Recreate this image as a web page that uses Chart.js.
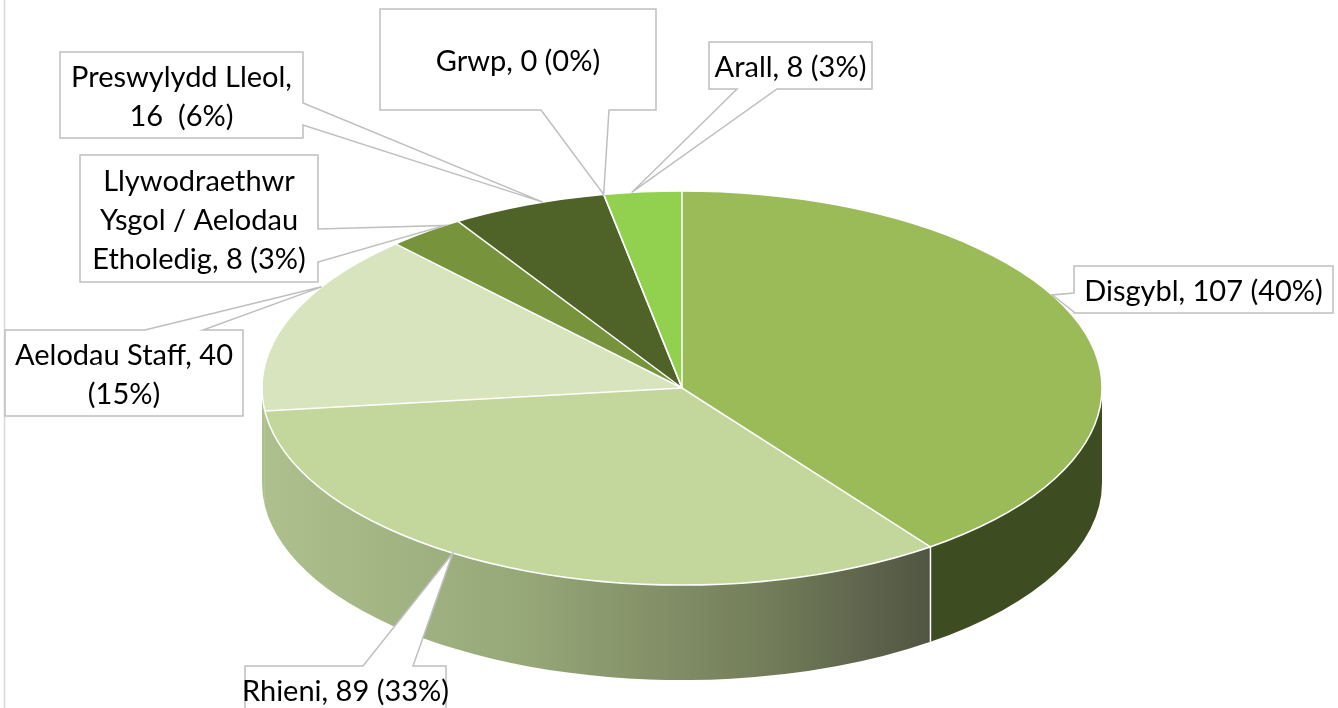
<!DOCTYPE html>
<html><head><meta charset="utf-8">
<script src="https://cdn.jsdelivr.net/npm/chart.js@4.4.1/dist/chart.umd.min.js"></script>
<style>html,body{margin:0;padding:0;background:#fff;overflow:hidden}#wrap{position:relative;width:1338px;height:708px}canvas{display:block}</style>
</head><body><div id="wrap"><canvas id="c" width="1338" height="708" style="width:1338px;height:708px"></canvas></div>
<script>
const categories = ['Disgybl', 'Rhieni', 'Aelodau Staff', 'Llywodraethwr Ysgol / Aelodau Etholedig', 'Preswylydd Lleol', 'Grwp', 'Arall'];
const values = [107, 89, 40, 8, 16, 0, 8];
const percents = [40, 33, 15, 3, 6, 0, 3];
const labelLines = [
  ['Disgybl, 107 (40%)'],
  ['Rhieni, 89 (33%)'],
  ['Aelodau Staff, 40', '(15%)'],
  ['Llywodraethwr', 'Ysgol / Aelodau', 'Etholedig, 8 (3%)'],
  ['Preswylydd Lleol,', '16  (6%)'],
  ['Grwp, 0 (0%)'],
  ['Arall, 8 (3%)']
];
const faceColors = ['#9BBB59', '#C3D69B', '#D7E4BD', '#77933C', '#4F6228', '#C0504D', '#92D050'];

const pie3d = {
  id: 'pie3d',
  beforeDatasetsDraw(chart, args, o) {
    const ctx = chart.ctx, meta = chart.getDatasetMeta(0);
    const el0 = meta.data[0];
    const cx = el0.x, cy = el0.y, ry = el0.outerRadius, rx = ry * o.stretch, d = o.depth;
    const grad = ctx.createLinearGradient(cx - rx, 0, cx + rx, 0);
    o.wallStops.forEach(s => grad.addColorStop(s[0], s[1]));
    ctx.save();
    meta.data.forEach((el, i) => {
      const s = Math.max(el.startAngle, 0), e = Math.min(el.endAngle, Math.PI);
      if (e <= s) return;
      ctx.beginPath();
      ctx.ellipse(cx, cy, rx, ry, 0, s, e, false);
      ctx.lineTo(cx + rx * Math.cos(e), cy + d + ry * Math.sin(e));
      ctx.ellipse(cx, cy + d, rx, ry, 0, e, s, true);
      ctx.closePath();
      ctx.fillStyle = o.wallSolid[i] || grad;
      ctx.fill();
    });
    ctx.strokeStyle = '#ffffff';
    ctx.lineWidth = 1.5;
    meta.data.forEach(el => {
      const a = el.startAngle;
      if (a > 0.2 && a < Math.PI - 0.2) {
        const x = cx + rx * Math.cos(a), y = cy + ry * Math.sin(a);
        ctx.beginPath(); ctx.moveTo(x, y); ctx.lineTo(x, y + d); ctx.stroke();
      }
    });
    ctx.restore();
    ctx.save();
    ctx.translate(cx, cy); ctx.scale(o.stretch, 1); ctx.translate(-cx, -cy);
  },
  afterDatasetsDraw(chart, args, o) {
    const ctx = chart.ctx;
    ctx.restore();
    const meta = chart.getDatasetMeta(0), el0 = meta.data[0];
    const cx = el0.x, cy = el0.y, ry = el0.outerRadius, rx = ry * o.stretch;
    ctx.save();
    ctx.strokeStyle = '#ffffff'; ctx.lineWidth = 1.5;
    ctx.beginPath(); ctx.ellipse(cx, cy, rx, ry, 0, 0, Math.PI * 2); ctx.stroke();
    meta.data.forEach(el => {
      const a = el.startAngle;
      ctx.beginPath(); ctx.moveTo(cx, cy);
      ctx.lineTo(cx + rx * Math.cos(a), cy + ry * Math.sin(a)); ctx.stroke();
    });
    ctx.restore();
  },
  afterDraw(chart, args, o) {
    const ctx = chart.ctx, meta = chart.getDatasetMeta(0), el0 = meta.data[0];
    const cx = el0.x, cy = el0.y, ry = el0.outerRadius, rx = ry * o.stretch;
    ctx.save();
    ctx.strokeStyle = '#D9D9D9'; ctx.lineWidth = 1.5;
    ctx.beginPath(); ctx.moveTo(4.5, 0); ctx.lineTo(4.5, 708); ctx.stroke();
    o.callouts.forEach((c, i) => {
      const el = meta.data[i];
      const a = el.startAngle + (el.endAngle - el.startAngle) * c.frac;
      const tx = cx + rx * Math.cos(a), ty = cy + ry * Math.sin(a);
      const [x, y, w, h] = c.box, [b0, b1] = c.base;
      ctx.beginPath();
      ctx.moveTo(x, y);
      if (c.side === 'top') { ctx.lineTo(b0, y); ctx.lineTo(tx, ty); ctx.lineTo(b1, y); }
      ctx.lineTo(x + w, y);
      if (c.side === 'right') { ctx.lineTo(x + w, b0); ctx.lineTo(tx, ty); ctx.lineTo(x + w, b1); }
      ctx.lineTo(x + w, y + h);
      if (c.side === 'bottom') { ctx.lineTo(b1, y + h); ctx.lineTo(tx, ty); ctx.lineTo(b0, y + h); }
      ctx.lineTo(x, y + h);
      if (c.side === 'left') { ctx.lineTo(x, b1); ctx.lineTo(tx, ty); ctx.lineTo(x, b0); }
      ctx.closePath();
      ctx.fillStyle = '#ffffff'; ctx.fill();
      ctx.strokeStyle = '#BFBFBF'; ctx.lineWidth = 1.5; ctx.stroke();
      const lines = labelLines[i];
      ctx.fillStyle = '#000000';
      ctx.font = o.font;
      ctx.textAlign = 'center'; ctx.textBaseline = 'middle';
      const lh = o.lineHeight;
      const mid = (c.textY !== undefined ? c.textY : y + h / 2 + 2);
      lines.forEach((t, k) => {
        ctx.fillText(t, x + w / 2, mid + (k - (lines.length - 1) / 2) * lh);
      });
    });
    ctx.restore();
  }
};

new Chart(document.getElementById('c').getContext('2d'), {
  type: 'pie',
  data: {
    labels: categories,
    datasets: [{ data: values, backgroundColor: faceColors, borderWidth: 0, hoverOffset: 0, clip: false }]
  },
  options: {
    responsive: false,
    animation: false,
    events: [],
    radius: 197,
    layout: { padding: { top: 191, bottom: 123, left: 26, right: 0 } },
    plugins: {
      legend: { display: false },
      tooltip: { enabled: false },
      pie3d: {
        stretch: 420 / 197,
        depth: 95,
        wallSolid: ['#3E4C22'],
        wallStops: [[0, '#AFC08F'], [0.3, '#98A979'], [0.6, '#737D5A'], [0.8, '#505442'], [1, '#4F5341']],
        font: '29px Lato',
        lineHeight: 39,
        callouts: [
          { box: [1074, 266, 259, 47], side: 'left', base: [293, 312], frac: 0.43 },
          { box: [245, 666, 201, 48], side: 'top', base: [363, 413], frac: 0.58, textY: 692 },
          { box: [5, 330, 238, 86], side: 'top', base: [145, 203], frac: 0.70 },
          { box: [80, 155, 238, 127], side: 'right', base: [229, 262], frac: 0.8 },
          { box: [60, 52, 243, 86], side: 'right', base: [103, 125], frac: 0.6 },
          { box: [380, 9, 276, 101], side: 'bottom', base: [541, 609], frac: 0, textY: 62 },
          { box: [709, 42, 163, 47], side: 'bottom', base: [737, 777], frac: 0.36 }
        ]
      }
    }
  },
  plugins: [pie3d]
});
</script>
</body></html>
